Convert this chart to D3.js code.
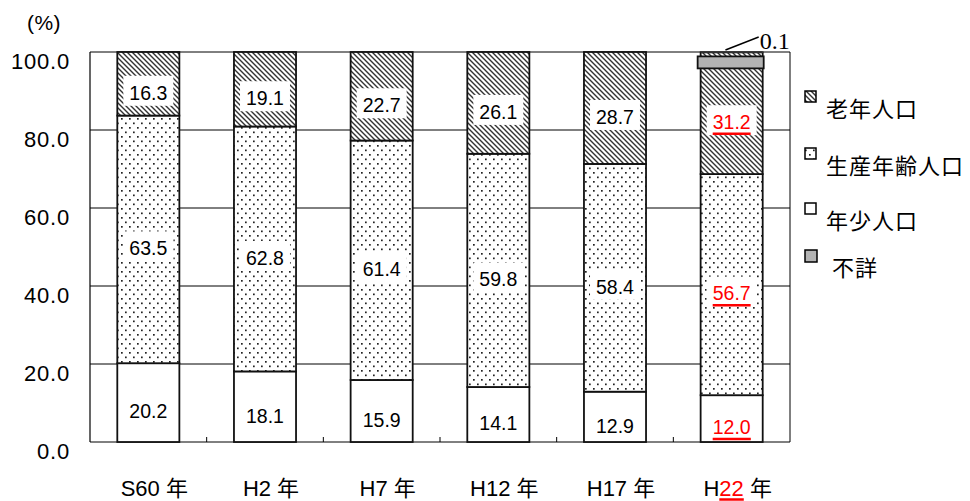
<!DOCTYPE html>
<html>
<head>
<meta charset="utf-8">
<script src="https://cdn.jsdelivr.net/npm/d3@7"></script>
<style>
  html, body { margin: 0; padding: 0; background: #fff; }
  svg { display: block; }
</style>
</head>
<body>
<svg id="chart" width="970" height="501"></svg>
<script>
// Population share by age group (%), census years
const categories = ["S60", "H2", "H7", "H12", "H17", "H22"];
const young   = [20.2, 18.1, 15.9, 14.1, 12.9, 12.0];   // 年少人口
const working = [63.5, 62.8, 61.4, 59.8, 58.4, 56.7];   // 生産年齢人口
const old     = [16.3, 19.1, 22.7, 26.1, 28.7, 31.2];   // 老年人口
const unknown = [0, 0, 0, 0, 0, 0.1];                   // 不詳
const yTicks  = [0, 20, 40, 60, 80, 100];
const highlightIndex = 5;   // latest year shown in red

const svg = d3.select("#chart");
const latin = "'Liberation Sans', Arial, 'Noto Sans CJK JP', sans-serif";
const cjk = "'Noto Sans CJK JP', 'Noto Sans', sans-serif";

const plot = { left: 90, right: 790, top: 52, bottom: 442 };

const x = d3.scaleBand()
  .domain(categories)
  .range([plot.left, plot.right])
  .paddingInner(0.468)
  .paddingOuter(0.234);

const y = d3.scaleLinear().domain([0, 100]).range([plot.bottom, plot.top]);

// Fill patterns
const defs = svg.append("defs");
const hatch = defs.append("pattern")
  .attr("id", "hatch").attr("patternUnits", "userSpaceOnUse")
  .attr("width", 5).attr("height", 5);
hatch.append("rect").attr("width", 5).attr("height", 5).attr("fill", "#fff");
hatch.append("path")
  .attr("d", "M-1,-1 L6,6 M-1,4 L1,6 M4,-1 L6,1")
  .attr("stroke", "#333").attr("stroke-width", 1.4);

const dots = defs.append("pattern")
  .attr("id", "dots").attr("patternUnits", "userSpaceOnUse")
  .attr("width", 8).attr("height", 9);
dots.append("rect").attr("width", 8).attr("height", 9).attr("fill", "#fff");
dots.append("rect").attr("x", 1).attr("y", 1).attr("width", 1.7).attr("height", 1.7).attr("fill", "#222");
dots.append("rect").attr("x", 5).attr("y", 5.5).attr("width", 1.7).attr("height", 1.7).attr("fill", "#222");

// Gridlines and frame
svg.append("g").selectAll("line")
  .data(yTicks)
  .join("line")
  .attr("x1", plot.left).attr("x2", plot.right)
  .attr("y1", d => y(d)).attr("y2", d => y(d))
  .attr("stroke", "#000").attr("stroke-width", 1);

svg.append("line")
  .attr("x1", plot.left).attr("x2", plot.left)
  .attr("y1", y(100)).attr("y2", y(0))
  .attr("stroke", "#000").attr("stroke-width", 1.2);
svg.append("line")
  .attr("x1", plot.right).attr("x2", plot.right)
  .attr("y1", y(100)).attr("y2", y(0))
  .attr("stroke", "#000").attr("stroke-width", 1);

// Category boundary ticks on the baseline
svg.append("g").selectAll("line")
  .data(categories.slice(1))
  .join("line")
  .attr("x1", d => x(d) - x.step() * x.paddingInner() / 2)
  .attr("x2", d => x(d) - x.step() * x.paddingInner() / 2)
  .attr("y1", y(0)).attr("y2", y(0) - 5)
  .attr("stroke", "#000").attr("stroke-width", 1);

// Y axis labels
svg.append("g").selectAll("text")
  .data(yTicks)
  .join("text")
  .attr("x", 70)
  .attr("y", d => y(d) + 16.5)
  .attr("text-anchor", "end")
  .attr("font-family", latin)
  .attr("font-size", 22)
  .attr("letter-spacing", 0.8)
  .attr("fill", "#000")
  .text(d => d.toFixed(1));

svg.append("text")
  .attr("x", 44).attr("y", 30)
  .attr("text-anchor", "middle")
  .attr("font-family", latin)
  .attr("font-size", 21)
  .attr("letter-spacing", 0.5)
  .text("(%)");

// Stacked segments
const series = [
  { key: "young", values: young, fill: "#fff" },
  { key: "working", values: working, fill: "url(#dots)" },
  { key: "old", values: old, fill: "url(#hatch)" },
  { key: "unknown", values: unknown, fill: "#b3b3b3" }
];

const segments = [];
categories.forEach((c, i) => {
  let base = 0;
  series.forEach(s => {
    const v = s.values[i];
    segments.push({ cat: c, i, key: s.key, fill: s.fill, y0: base, y1: base + v, v });
    base += v;
  });
});

svg.append("g").selectAll("rect")
  .data(segments.filter(d => d.v > 0))
  .join("rect")
  .attr("x", d => x(d.cat))
  .attr("width", x.bandwidth())
  .attr("y", d => y(d.y1))
  .attr("height", d => y(d.y0) - y(d.y1))
  .attr("fill", d => d.fill)
  .attr("stroke", "#111")
  .attr("stroke-width", d => d.key === "unknown" ? 0.5 : 1.8);

// Enlarged callout for the tiny 不詳 share
const uIdx = unknown.findIndex(v => v > 0);
if (uIdx >= 0) {
  const c = categories[uIdx];
  const top = y(100 - unknown[uIdx]);
  svg.append("rect")
    .attr("x", x(c) - 3)
    .attr("y", top + 4)
    .attr("width", x.bandwidth() + 4)
    .attr("height", 12)
    .attr("fill", "#b3b3b3")
    .attr("stroke", "#111").attr("stroke-width", 1.8);
  svg.append("line")
    .attr("x1", x(c) + x.bandwidth() * 0.4).attr("y1", y(100) - 2)
    .attr("x2", x(c) + x.bandwidth() - 4).attr("y2", y(100) - 15)
    .attr("stroke", "#000").attr("stroke-width", 1.4);
  svg.append("text")
    .attr("x", x(c) + x.bandwidth() - 3)
    .attr("y", y(100) - 3)
    .attr("font-family", "'Liberation Serif', 'Times New Roman', serif")
    .attr("font-size", 24)
    .text(unknown[uIdx].toFixed(1));
}

// Value labels
const labelSegs = segments.filter(d => d.key !== "unknown");
const labels = svg.append("g");
labelSegs.forEach(d => {
  const cx = x(d.cat) + x.bandwidth() / 2;
  const cy = y((d.y0 + d.y1) / 2) + 9;
  const red = d.i === highlightIndex;
  const g = labels.append("g");
  const t = g.append("text")
    .attr("x", cx).attr("y", cy + 6.8)
    .attr("text-anchor", "middle")
    .attr("font-family", latin)
    .attr("font-size", 19.5)
    .attr("fill", red ? "#ff0000" : "#000")
    .text(d.v.toFixed(1));
  const bb = t.node().getBBox();
  if (d.key !== "young") {
    g.insert("rect", "text")
      .attr("x", bb.x - 6).attr("y", cy - 17)
      .attr("width", bb.width + 12).attr("height", 30)
      .attr("fill", "#fff");
  }
  if (red) {
    g.append("line")
      .attr("x1", bb.x).attr("x2", bb.x + bb.width)
      .attr("y1", cy + 11.5).attr("y2", cy + 11.5)
      .attr("stroke", "#ff0000").attr("stroke-width", 2.5);
  }
});

// X axis labels
categories.forEach((c, i) => {
  const cx = x(c) + x.bandwidth() / 2 + 6;
  const t = svg.append("text")
    .attr("x", cx).attr("y", 496)
    .attr("text-anchor", "middle")
    .attr("font-family", latin)
    .attr("font-size", 22);
  if (i === highlightIndex) {
    const m = c.match(/^([A-Z]+)(\d+)$/);
    t.append("tspan").text(m[1]);
    t.append("tspan").attr("fill", "#ff0000").attr("class", "hl").text(m[2]);
    t.append("tspan").text(" 年");
    const span = t.select(".hl").node();
    const start = span.getStartPositionOfChar(0).x;
    const end = span.getEndPositionOfChar(m[2].length - 1).x;
    svg.append("line")
      .attr("x1", start).attr("x2", end)
      .attr("y1", 499.5).attr("y2", 499.5)
      .attr("stroke", "#ff0000").attr("stroke-width", 2.5);
  } else {
    t.text(c + " 年");
  }
});

// Legend
const legendItems = [
  { label: "老年人口", fill: "url(#hatch)", y: 109, size: 11, dx: 0 },
  { label: "生産年齢人口", fill: "url(#dots)", y: 166, size: 11, dx: 0 },
  { label: "年少人口", fill: "#fff", y: 221, size: 11, dx: 0 },
  { label: "不詳", fill: "#b3b3b3", y: 268, size: 12, dx: 6 }
];
const lg = svg.append("g");
legendItems.forEach(d => {
  lg.append("rect")
    .attr("x", 805).attr("y", d.y - 18)
    .attr("width", d.size).attr("height", d.size)
    .attr("fill", d.fill)
    .attr("stroke", "#000").attr("stroke-width", 1.5);
  lg.append("text")
    .attr("x", 826 + d.dx).attr("y", d.y + 8)
    .attr("font-family", cjk)
    .attr("font-size", 22)
    .attr("letter-spacing", 1)
    .text(d.label);
});
</script>
</body>
</html>
